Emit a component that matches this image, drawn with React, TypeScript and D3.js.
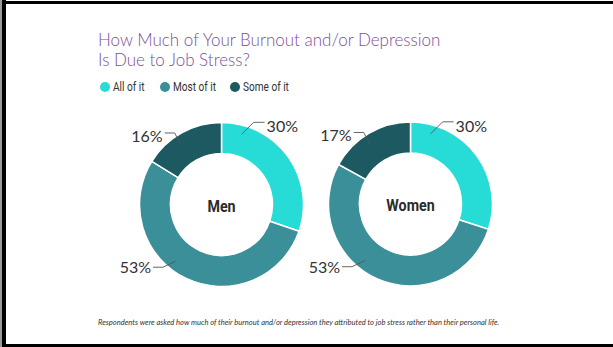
import React from "react";
import * as d3 from "d3";

const W = 613;
const H = 347;

const title = ["How Much of Your Burnout and/or Depression", "Is Due to Job Stress?"];
const categories = ["All of it", "Most of it", "Some of it"];
const colors = ["#27dcd6", "#3a8f98", "#1c5961"];
const groups = ["Men", "Women"];
const menValues = [30, 53, 16];
const womenValues = [30, 53, 17];
const footnote =
  "Respondents were asked how much of their burnout and/or depression they attributed to job stress rather than their personal life.";

// label layout per category (angle of leader start, elbow offset, side)
const labelLayout = [
  { angle: 16, dx: 12, dy: -12, len: 11, side: 1, base: 10 },
  { angle: 219, dx: -12.5, dy: 6, len: 10, side: -1, base: 6 },
  { angle: 326, dx: -6, dy: -11, len: 10, side: -1, base: 9 },
];

const donuts = [
  { name: groups[0], values: menValues, cx: 221.5, cy: 204.5 },
  { name: groups[1], values: womenValues, cx: 410.5, cy: 204 },
];

const outerR = 82;
const innerR = 51;

function Donut({ name, values, cx, cy }: { name: string; values: number[]; cx: number; cy: number }) {
  const pie = d3.pie<number>().sort(null).value((d) => d);
  const arcs = pie(values);
  const arcGen = d3.arc<d3.PieArcDatum<number>>().innerRadius(innerR).outerRadius(outerR);
  return (
    <g transform={`translate(${cx},${cy})`}>
      {arcs.map((a, i) => (
        <path key={i} d={arcGen(a) || ""} fill={colors[i]} stroke="#ffffff" strokeWidth={1.5} />
      ))}
      {arcs.map((a, i) => {
        const L = labelLayout[i];
        const rad = (L.angle * Math.PI) / 180;
        const ax = 73 * Math.sin(rad);
        const ay = -73 * Math.cos(rad);
        const ex = ax + L.dx;
        const ey = ay + L.dy;
        const hx = ex + L.side * L.len;
        return (
          <g key={"l" + i}>
            <polyline
              points={`${ax},${ay} ${ex},${ey} ${hx},${ey}`}
              fill="none"
              stroke="#555"
              strokeWidth={0.9}
            />
            <text
              x={hx + L.side * 2}
              y={ey + L.base}
              textAnchor={L.side > 0 ? "start" : "end"}
              fontFamily="Lato, 'Open Sans', sans-serif"
              fontSize={16}
              fill="#333"
            >
              {`${values[i]}%`}
            </text>
          </g>
        );
      })}
      <text
        x={0}
        y={7}
        textAnchor="middle"
        fontFamily="Roboto, sans-serif"
        fontWeight={700}
        fontSize={17}
        fill="#2b2b2b"
        transform="scale(0.84,1)"
      >
        {name}
      </text>
    </g>
  );
}

export default function App() {
  const legendX = [105, 165, 235];
  return (
    <svg
      width={W}
      height={H}
      style={{ position: "absolute", left: 0, top: 0, background: "#fff" }}
    >
      <rect x={0} y={0} width={W} height={H} fill="#fff" />
      <rect x={0} y={0} width={2} height={H} fill="#9a9a9a" />
      <rect x={2} y={0} width={4} height={H} fill="#000" />
      <rect x={2} y={1} width={W - 2} height={3} fill="#000" />
      <rect x={2} y={344} width={W - 2} height={3} fill="#000" />

      {title.map((t, i) => (
        <text
          key={i}
          x={98}
          y={46 + i * 20}
          fontFamily="Lato, sans-serif"
          fontWeight={300}
          fontSize={17}
          fill="#7b4f9c"
        >
          {t}
        </text>
      ))}

      {categories.map((c, i) => (
        <g key={c}>
          <circle cx={legendX[i]} cy={87} r={5} fill={colors[i]} />
          <text
            x={(legendX[i] + 8) / 0.84}
            y={91}
            fontFamily="Roboto, sans-serif"
            fontSize={12}
            fill="#333"
            transform="scale(0.84,1)"
          >
            {c}
          </text>
        </g>
      ))}

      {donuts.map((d) => (
        <Donut key={d.name} {...d} />
      ))}

      <text
        x={98}
        y={325}
        fontFamily="Lato, sans-serif"
        fontStyle="italic"
        fontSize={7.55}
        fill="#333"
      >
        {footnote}
      </text>
    </svg>
  );
}
